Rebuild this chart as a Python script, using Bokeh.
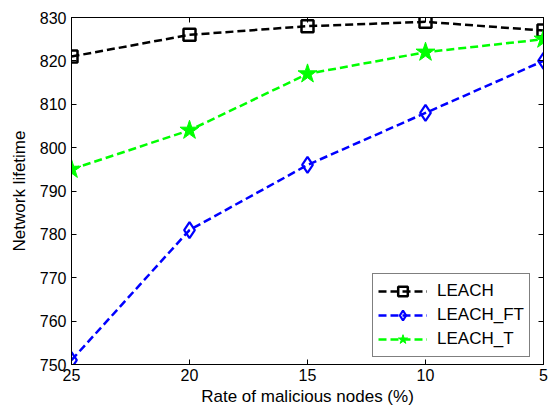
from bokeh.plotting import figure
from bokeh.models import Range1d, LinearAxis, FixedTicker, Legend, LegendItem
from bokeh.embed import file_html
from bokeh.resources import INLINE

rates = [25, 20, 15, 10, 5]
leach = [821, 826, 828, 829, 827]
leach_ft = [751, 781, 796, 808, 820]
leach_t = [795, 804, 817, 822, 825]
y_ticks = [750, 760, 770, 780, 790, 800, 810, 820, 830]

p = figure(width=548, height=411, output_backend="svg", toolbar_location=None,
           x_range=Range1d(25, 5), y_range=Range1d(750, 830),
           min_border_left=71, min_border_right=5, min_border_top=17, min_border_bottom=47)
p.xgrid.visible = False
p.ygrid.visible = False
p.outline_line_color = "black"
p.outline_line_width = 1
p.background_fill_color = "white"
p.border_fill_color = "white"

font = "Liberation Sans"
for ax in (p.xaxis[0], p.yaxis[0]):
    ax.major_tick_in = 5
    ax.major_tick_out = 0
    ax.minor_tick_in = 0
    ax.minor_tick_out = 0
    ax.axis_line_color = "black"
    ax.major_label_text_font = font
    ax.major_label_text_font_size = "16px"
    ax.major_label_text_color = "black"
    ax.axis_label_text_font = font
    ax.axis_label_text_font_size = "17px"
    ax.axis_label_text_font_style = "normal"
    ax.axis_label_text_color = "black"
p.xaxis.ticker = FixedTicker(ticks=rates)
p.yaxis.ticker = FixedTicker(ticks=y_ticks)
p.xaxis.axis_label = "Rate of malicious nodes (%)"
p.yaxis.axis_label = "Network lifetime"
p.xaxis.major_label_standoff = 4
p.yaxis.major_label_standoff = 5
p.xaxis.axis_label_standoff = 3
p.yaxis.axis_label_standoff = 8

top = LinearAxis(ticker=FixedTicker(ticks=rates), major_tick_in=5, major_tick_out=0,
                 minor_tick_in=0, minor_tick_out=0,
                 major_label_overrides={t: "" for t in rates},
                 major_label_standoff=0)
right = LinearAxis(ticker=FixedTicker(ticks=y_ticks), major_tick_in=5, major_tick_out=0,
                   minor_tick_in=0, minor_tick_out=0,
                   major_label_overrides={t: "" for t in y_ticks},
                   major_label_standoff=0)
p.add_layout(top, "above")
p.add_layout(right, "right")

dash = "8 4"
lw = 2.5
l1 = p.line(rates, leach, line_color="black", line_width=lw, line_dash=dash)
m1 = p.scatter(rates, leach, marker="square", size=12, line_color="black", line_width=lw,
               fill_color=None)
l2 = p.line(rates, leach_ft, line_color="blue", line_width=lw, line_dash=dash)
m2 = p.scatter(rates, leach_ft, marker="diamond", size=16, line_color="blue", line_width=2.2,
               fill_color=None)
l3 = p.line(rates, leach_t, line_color="#00ff00", line_width=lw, line_dash=dash)
m3 = p.scatter(rates, leach_t, marker="star", size=20, line_color="#00ff00", line_width=1,
               fill_color="#00ff00")

legend = Legend(items=[
    LegendItem(label="LEACH", renderers=[l1, m1]),
    LegendItem(label="LEACH_FT", renderers=[l2, m2]),
    LegendItem(label="LEACH_T", renderers=[l3, m3]),
], location=(301, 7))
legend.label_text_font = font
legend.label_text_font_size = "17px"
legend.label_text_color = "black"
legend.border_line_color = "black"
legend.border_line_width = 1
legend.background_fill_alpha = 1
legend.glyph_width = 49
legend.glyph_height = 24
legend.label_height = 24
legend.spacing = 0
legend.padding = 5
legend.margin = 0
legend.label_standoff = 10
p.add_layout(legend, "center")

open("out.html", "w").write(file_html(p, INLINE))
